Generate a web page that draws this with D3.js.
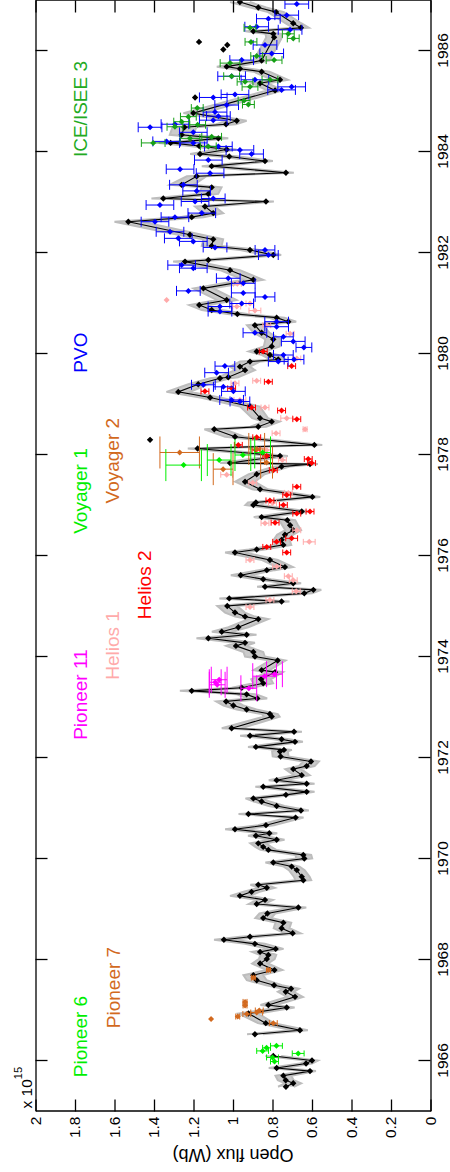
<!DOCTYPE html>
<html>
<head>
<meta charset="utf-8">
<script src="https://cdn.jsdelivr.net/npm/d3@7"></script>
<style>
html, body { margin: 0; padding: 0; background: #fff; }
svg { display: block; font-family: "Liberation Sans", Arial, Helvetica, sans-serif; }
</style>
</head>
<body>
<svg id="chart" width="450" height="1172"></svg>
<script>
// ---- axis ticks ----
const yearTicks = [1966, 1968, 1970, 1972, 1974, 1976, 1978, 1980, 1982, 1984, 1986];
const fluxTicks = [0, 0.2, 0.4, 0.6, 0.8, 1, 1.2, 1.4, 1.6, 1.8, 2];
const fluxTickLabels = ["0", "0.2", "0.4", "0.6", "0.8", "1", "1.2", "1.4", "1.6", "1.8", "2"];

// ---- open flux from near-Earth data: [year, flux (1e15 Wb), uncertainty]; null marks a data gap ----
const nearEarth = [
  [1965.49,0.732,0.04],[1965.56,0.695,0.04],[1965.62,0.733,0.04],[1965.71,0.745,0.04],[1965.80,0.610,0.03],
  [1965.86,0.779,0.04],[1965.95,0.630,0.03],[1966.01,0.600,0.03],[1966.10,0.796,0.04],[1966.30,null,null],
  [1966.53,0.889,0.04],[1966.61,0.661,0.04],[1966.75,0.834,0.04],[1966.94,0.922,0.05],[1967.06,0.728,0.04],
  [1967.11,0.821,0.04],[1967.27,0.686,0.04],[1967.37,0.733,0.04],[1967.43,0.706,0.04],[1967.50,0.792,0.04],
  [1967.60,0.880,0.05],[1967.70,0.897,0.05],[1967.80,0.790,0.04],[1967.93,0.863,0.04],[1968.02,0.829,0.04],
  [1968.10,0.821,0.04],[1968.16,0.863,0.04],[1968.22,0.784,0.04],[1968.32,0.889,0.05],[1968.40,1.046,0.05],
  [1968.46,0.914,0.05],[1968.53,0.698,0.04],[1968.63,0.754,0.04],[1968.74,0.745,0.04],[1968.83,0.847,0.04],
  [1968.92,0.826,0.04],[1969.04,0.669,0.04],[1969.11,0.880,0.04],[1969.19,0.838,0.04],[1969.27,0.965,0.05],
  [1969.35,0.906,0.04],[1969.43,0.829,0.04],[1969.49,0.872,0.04],[1969.58,0.644,0.04],[1969.65,0.652,0.04],
  [1969.78,0.677,0.04],[1969.85,0.703,0.04],[1969.93,0.796,0.04],[1970.01,0.639,0.04],[1970.08,0.644,0.04],
  [1970.18,0.821,0.04],[1970.24,0.847,0.04],[1970.31,0.872,0.04],[1970.38,0.779,0.04],[1970.46,0.884,0.04],
  [1970.51,0.816,0.04],[1970.59,0.990,0.05],[1970.67,0.833,0.04],[1970.82,0.683,0.04],[1970.89,0.922,0.05],
  [1970.96,0.656,0.04],[1971.05,0.779,0.04],[1971.14,0.855,0.04],[1971.20,0.897,0.04],[1971.27,0.732,0.04],
  [1971.33,0.627,0.04],[1971.43,0.847,0.04],[1971.49,0.627,0.04],[1971.56,0.779,0.04],[1971.66,0.652,0.04],
  [1971.78,0.695,0.04],[1971.84,0.627,0.04],[1971.93,0.605,0.04],[1972.03,0.759,0.04],[1972.13,0.762,0.04],
  [1972.16,0.742,0.04],[1972.22,0.884,0.04],[1972.32,0.686,0.04],[1972.37,0.754,0.04],[1972.44,0.914,0.05],
  [1972.52,0.691,0.04],[1972.59,1.007,0.05],[1972.82,0.804,0.04],[1972.87,0.813,0.04],[1972.96,0.931,0.05],
  [1973.04,0.998,0.05],[1973.12,1.035,0.05],[1973.18,0.877,0.05],[1973.26,0.931,0.05],[1973.33,1.209,0.06],
  [1973.39,0.956,0.05],[1973.48,0.847,0.05],[1973.56,0.858,0.05],[1973.70,0.787,0.04],[1973.74,0.855,0.04],
  [1973.93,0.774,0.04],[1974.01,0.889,0.05],[1974.10,0.897,0.05],[1974.22,0.985,0.05],[1974.28,0.939,0.05],
  [1974.37,1.125,0.06],[1974.44,0.931,0.05],[1974.50,1.057,0.05],[1974.59,0.973,0.05],[1974.75,0.872,0.05],
  [1974.80,0.939,0.05],[1974.88,0.990,0.05],[1975.01,1.029,0.05],[1975.10,0.754,0.04],[1975.16,1.019,0.05],
  [1975.26,0.639,0.04],[1975.33,0.593,0.04],[1975.39,0.838,0.04],[1975.46,0.695,0.04],[1975.54,0.847,0.04],
  [1975.62,0.961,0.05],[1975.72,0.829,0.04],[1975.78,0.737,0.04],[1975.92,0.813,0.04],[1976.07,0.990,0.05],
  [1976.13,0.880,0.04],[1976.22,0.745,0.04],[1976.32,0.754,0.04],[1976.42,0.737,0.04],[1976.51,0.695,0.04],
  [1976.61,0.711,0.04],[1976.71,0.725,0.04],[1976.77,0.855,0.04],[1976.88,0.652,0.04],[1977.01,0.897,0.04],
  [1977.06,0.884,0.04],[1977.17,0.598,0.04],[1977.32,0.863,0.04],[1977.47,0.939,0.05],[1977.62,0.880,0.04],
  [1977.77,0.754,0.04],[1977.82,0.610,0.04],[1977.84,1.015,0.05],[1977.98,0.762,0.04],[1978.13,1.179,0.05],
  [1978.20,0.588,0.04],[1978.36,0.990,0.05],[1978.51,1.095,0.05],[1978.56,0.872,0.04],[1978.66,0.804,0.04],
  [1978.73,0.863,0.04],[1978.96,0.914,0.05],[1979.14,1.116,0.05],[1979.25,1.277,0.06],[1979.40,1.176,0.05],
  [1979.52,1.066,0.05],[1979.54,1.024,0.05],[1979.68,0.939,0.05],[1979.75,0.965,0.05],[1979.85,0.914,0.05],
  [1979.89,0.771,0.04],[1979.98,0.813,0.04],[1980.05,0.880,0.04],[1980.15,0.804,0.04],[1980.29,0.796,0.04],
  [1980.42,0.855,0.04],[1980.57,0.889,0.04],[1980.64,0.720,0.04],[1980.72,0.779,0.04],[1980.79,0.978,0.05],
  [1980.87,1.108,0.05],[1980.97,1.171,0.05],[1981.07,1.032,0.05],[1981.30,1.150,0.05],[1981.47,0.897,0.05],
  [1981.66,1.015,0.05],[1981.83,1.243,0.06],[1981.86,1.125,0.05],[1981.96,0.796,0.04],[1982.06,0.914,0.05],
  [1982.14,1.108,0.05],[1982.27,1.100,0.05],[1982.36,1.218,0.06],[1982.62,1.530,0.07],[1982.71,1.209,0.06],
  [1982.79,1.100,0.05],[1982.92,1.142,0.05],[1983.02,0.833,0.04],[1983.08,1.353,0.06],[1983.17,1.125,0.05],
  [1983.30,1.108,0.05],[1983.35,1.260,0.06],[1983.52,1.184,0.05],[1983.59,0.732,0.04],[1983.72,1.108,0.05],
  [1983.82,0.838,0.04],[1983.91,1.019,0.05],[1983.96,1.167,0.05],[1984.05,1.032,0.05],[1984.12,1.171,0.05],
  [1984.18,1.316,0.06],[1984.27,1.074,0.05],[1984.34,1.260,0.06],[1984.49,1.246,0.06],[1984.55,1.035,0.05],
  [1984.62,0.981,0.05],[1984.77,1.201,0.05],[1985.22,0.787,0.04],[1985.36,0.863,0.04],[1985.43,0.762,0.04],
  [1985.59,0.855,0.04],[1985.65,0.965,0.05],[1985.69,1.032,0.05],[1985.81,0.855,0.04],[1986.27,0.792,0.04],
  [1986.34,0.796,0.04],[1986.39,0.897,0.04],[1986.46,0.656,0.04],[1986.55,0.695,0.04],[1986.77,0.782,0.04],
  [1986.86,0.872,0.04],[1986.97,0.965,0.05]
];
// isolated near-Earth estimates
const nearEarthSingles = [[1978.30,1.42],[1985.08,1.192],[1986.03,1.049],[1986.12,1.029],[1986.18,1.172]];

// ---- deep-space spacecraft estimates: [year, flux, uncertainty] ----
const pioneer6 = [[1965.99,0.79,0.02],[1966.07,0.80,0.03],[1966.15,0.67,0.03],[1966.20,0.85,0.03],[1966.26,0.83,0.02],[1966.30,0.78,0.03]];
const pioneer7 = [[1966.75,0.796,0.02],[1966.83,1.111,0],[1966.88,0.976,0.01],[1966.93,0.930,0.02],[1966.96,0.880,0.03],
  [1967.00,0.867,0.02],[1967.10,0.939,0.01],[1967.17,0.939,0.01],[1967.65,0.897,0.01],[1967.80,0.820,0.01]];
const pioneer11 = [[1973.38,0.92,0.04],[1973.45,1.08,0.04],[1973.50,1.09,0.03],[1973.55,1.07,0.04],[1973.62,0.84,0.06],[1973.66,0.79,0.04]];
const helios1 = [[1974.99,0.914,0.02],[1975.13,0.813,0.02],[1975.30,0.680,0.02],[1975.52,0.695,0.02],[1975.60,0.720,0.02],
  [1975.79,0.779,0.02],[1975.92,0.914,0.02],[1976.28,0.614,0.03],[1976.51,0.677,0.02],[1976.65,0.838,0.02],
  [1977.05,0.800,0.02],[1977.25,0.720,0.02],[1977.45,0.900,0.02],[1977.61,1.032,0.03],[1977.90,0.750,0.02],
  [1978.10,0.830,0.02],[1978.43,0.782,0.02],[1978.51,0.635,0.01],[1978.73,0.728,0.03],[1978.94,0.838,0.02],
  [1979.09,0.965,0.03],[1979.42,0.990,0.02],[1979.47,0.880,0.02],[1979.91,0.677,0.02],[1980.40,0.711,0.02],
  [1980.57,0.829,0.02],[1980.86,0.889,0.03],[1980.94,0.981,0.02],[1981.00,0.914,0.02],[1981.07,1.336,0],[1981.39,0.978,0.02]];
const helios2 = [[1976.07,0.728,0.02],[1976.18,0.829,0.02],[1976.28,0.779,0.02],[1976.35,0.703,0.03],[1976.66,0.787,0.02],
  [1976.84,0.677,0.02],[1976.88,0.610,0.02],[1977.01,0.745,0.02],[1977.10,0.813,0.02],[1977.21,0.728,0.02],
  [1977.37,0.677,0.02],[1977.70,0.796,0.02],[1977.84,0.602,0.02],[1977.92,0.619,0.02],[1977.98,0.829,0.02],
  [1978.10,0.884,0.02],[1978.20,0.973,0.02],[1978.35,0.880,0.02],[1978.71,0.677,0.02],[1978.88,0.754,0.02],
  [1978.94,0.906,0.02],[1979.26,1.142,0.02],[1979.32,1.007,0.02],[1979.45,0.821,0.02],[1979.76,0.703,0.02],[1980.05,0.847,0.02]];
const voyager1 = [[1977.80,1.25,0.09],[1977.90,1.07,0.06],[1978.00,0.95,0.04],[1978.05,0.85,0.04]];
const voyager2 = [[1977.72,1.05,0.05],[1977.85,0.83,0.03],[1978.05,1.27,0.10],[1978.12,0.88,0.04]];
const pvo = [
  [1979.06,0.965,0.05],[1979.09,1.007,0.06],[1979.26,0.998,0.06],[1979.35,1.049,0.05],[1979.39,1.150,0.06],
  [1979.63,1.083,0.06],[1979.76,1.041,0.05],[1979.85,0.771,0.05],[1979.89,0.691,0.05],[1979.98,0.745,0.05],
  [1980.13,0.641,0.04],[1980.25,0.695,0.06],[1980.34,0.745,0.05],[1980.42,0.889,0.06],[1980.54,0.779,0.06],
  [1980.64,0.779,0.06],[1980.84,1.066,0.06],[1980.94,1.066,0.06],[1981.00,0.956,0.06],[1981.13,0.838,0.05],
  [1981.21,0.948,0.06],[1981.25,1.226,0.06],[1981.40,0.948,0.06],[1981.50,1.024,0.06],[1981.70,1.201,0.07],
  [1981.76,1.260,0.07],[1981.96,0.821,0.05],[1982.06,0.838,0.05],[1982.11,1.091,0.06],[1982.23,1.201,0.07],
  [1982.29,1.277,0.07],[1982.42,1.319,0.07],[1982.62,1.395,0.07],[1982.71,1.294,0.07],[1982.79,1.158,0.07],
  [1982.95,1.370,0.07],[1983.02,1.192,0.07],[1983.08,1.100,0.06],[1983.23,1.184,0.07],[1983.35,1.251,0.07],
  [1983.58,1.116,0.07],[1983.66,1.268,0.07],[1983.84,1.125,0.07],[1983.96,0.906,0.06],[1984.04,0.965,0.07],
  [1984.11,1.074,0.07],[1984.18,1.201,0.07],[1984.21,1.336,0.07],[1984.39,1.201,0.07],[1984.49,1.420,0.06],
  [1984.55,1.294,0.07],[1984.63,1.100,0.07],[1984.71,1.074,0.06],[1984.79,1.091,0.06],[1984.93,1.032,0.06],
  [1985.08,1.100,0.07],[1985.14,0.990,0.07],[1985.23,0.754,0.07],[1985.29,0.703,0.07],[1985.43,0.889,0.07],
  [1985.50,1.007,0.07],[1985.82,0.956,0.06],[1985.95,0.804,0.06],[1986.12,0.838,0.06],[1986.42,0.711,0.06],
  [1986.48,0.880,0.06],[1986.64,0.821,0.06],[1986.71,0.728,0.06],[1986.93,0.677,0.06]];
const iceIsee3 = [
  [1984.11,1.125,0.04],[1984.18,1.404,0.06],[1984.27,1.218,0.05],[1984.30,1.108,0.05],[1984.50,1.294,0.04],
  [1984.54,1.179,0.04],[1984.60,1.260,0.04],[1984.70,1.226,0.04],[1984.87,1.181,0.03],[1984.94,0.922,0.03],
  [1985.02,0.944,0.03],[1985.29,0.914,0.04],[1985.39,0.939,0.04],[1985.43,0.813,0.04],[1985.50,1.007,0.04],
  [1985.76,1.015,0.05],[1985.82,0.792,0.04],[1985.90,0.880,0.03],[1986.18,0.909,0.03],[1986.25,0.695,0.03],
  [1986.34,0.720,0.03],[1986.46,0.914,0.03]];

// ---- series labels: name, colour, start year, flux at baseline ----
const seriesLabels = [
  ["Pioneer 6", "#00ee00", 1965.68, 1.74],
  ["Pioneer 7", "#d2691e", 1966.65, 1.57],
  ["Pioneer 11", "#ff00ff", 1972.36, 1.74],
  ["Helios 1", "#ffaaaa", 1973.55, 1.575],
  ["Helios 2", "#ff0000", 1974.75, 1.415],
  ["Voyager 1", "#00ee00", 1976.44, 1.74],
  ["Voyager 2", "#d2691e", 1977.04, 1.575],
  ["PVO", "#0000ff", 1979.63, 1.74],
  ["ICE/ISEE 3", "#22aa22", 1983.90, 1.74]
];

// The chart is laid out in a landscape frame (time across, flux up) and turned a quarter turn
// anticlockwise onto the portrait page.
const PAGE_H = 1172;
const svg = d3.select("#chart");
const root = svg.append("g").attr("transform", `translate(0,${PAGE_H}) rotate(-90)`);

const x = d3.scaleLinear().domain([1965, 1987]).range([60.5, 1171.5]);
const y = d3.scaleLinear().domain([0, 2]).range([430.5, 35.5]);

const defs = svg.append("defs");
defs.append("clipPath").attr("id", "plotClip")
  .append("rect").attr("x", x(1965)).attr("y", y(2)).attr("width", x(1987) - x(1965)).attr("height", y(0) - y(2));
const plot = root.append("g").attr("clip-path", "url(#plotClip)");

const diamond = r => `M0,${-r}L${r},0L0,${r}L${-r},0Z`;

// near-Earth series: grey uncertainty band, black line, black diamonds
const has = d => d[1] != null;
plot.append("path").datum(nearEarth)
  .attr("d", d3.area().defined(has).x(d => x(d[0])).y0(d => y(d[1] - d[2])).y1(d => y(d[1] + d[2])))
  .attr("fill", "#cbcbcb");
[-1, 1].forEach(s => {
  plot.append("path").datum(nearEarth)
    .attr("d", d3.line().defined(has).x(d => x(d[0])).y(d => y(d[1] + s * d[2])))
    .attr("fill", "none").attr("stroke", "#bdbdbd").attr("stroke-width", 2);
});
plot.append("path").datum(nearEarth)
  .attr("d", d3.line().defined(has).x(d => x(d[0])).y(d => y(d[1])))
  .attr("fill", "none").attr("stroke", "#000").attr("stroke-width", 1.1);
plot.append("g").selectAll("path").data(nearEarth.filter(has).concat(nearEarthSingles)).join("path")
  .attr("d", diamond(3.2))
  .attr("transform", d => `translate(${x(d[0])},${y(d[1])})`)
  .attr("fill", "#000");

// spacecraft series: error bars with end caps and diamond markers
function drawSeries(data, color, capHalf) {
  const g = plot.append("g");
  const bars = data.filter(d => d[2] > 0);
  g.selectAll("line.bar").data(bars).join("line").attr("class", "bar")
    .attr("x1", d => x(d[0])).attr("x2", d => x(d[0]))
    .attr("y1", d => y(d[1] - d[2])).attr("y2", d => y(d[1] + d[2]))
    .attr("stroke", color).attr("stroke-width", 1);
  [-1, 1].forEach(s => {
    g.selectAll(`line.cap${s}`).data(bars).join("line").attr("class", `cap${s}`)
      .attr("x1", d => x(d[0]) - capHalf).attr("x2", d => x(d[0]) + capHalf)
      .attr("y1", d => y(d[1] + s * d[2])).attr("y2", d => y(d[1] + s * d[2]))
      .attr("stroke", color).attr("stroke-width", 1);
  });
  g.selectAll("path.pt").data(data).join("path").attr("class", "pt")
    .attr("d", diamond(3))
    .attr("transform", d => `translate(${x(d[0])},${y(d[1])})`)
    .attr("fill", color);
}
drawSeries(pioneer6, "#00ee00", 3);
drawSeries(pioneer7, "#d2691e", 3);
drawSeries(helios1, "#ffaaaa", 3);
drawSeries(helios2, "#ff0000", 3);
drawSeries(pioneer11, "#ff00ff", 13);
drawSeries(voyager2, "#d2691e", 16);
drawSeries(voyager1, "#00ee00", 16);
drawSeries(pvo, "#0000ff", 5);
drawSeries(iceIsee3, "#16a016", 4);

// series labels
root.append("g").selectAll("text").data(seriesLabels).join("text")
  .attr("x", d => x(d[2])).attr("y", d => y(d[3]))
  .attr("fill", d => d[1])
  .attr("font-size", 19)
  .text(d => d[0]);

// frame with inward ticks on all four sides
const axisStyle = g => {
  g.select(".domain").attr("stroke", "#000").attr("stroke-width", 1.3);
  g.selectAll(".tick line").attr("stroke", "#000").attr("stroke-width", 1.3);
  g.selectAll(".tick text").attr("fill", "#000").attr("font-size", 15.5)
    .attr("font-family", "'Liberation Sans', Arial, Helvetica, sans-serif");
};
root.append("g").attr("transform", `translate(0,${y(0)})`)
  .call(d3.axisBottom(x).tickValues(yearTicks).tickFormat(d3.format("d")).tickSize(-12).tickSizeOuter(0).tickPadding(6))
  .call(axisStyle);
root.append("g").attr("transform", `translate(0,${y(2)})`)
  .call(d3.axisTop(x).tickValues(yearTicks).tickFormat("").tickSize(-12).tickSizeOuter(0))
  .call(axisStyle);
root.append("g").attr("transform", `translate(${x(1965)},0)`)
  .call(d3.axisLeft(y).tickValues(fluxTicks).tickFormat((d, i) => fluxTickLabels[i]).tickSize(-12).tickSizeOuter(0).tickPadding(5))
  .call(axisStyle);
root.append("g").attr("transform", `translate(${x(1987)},0)`)
  .call(d3.axisRight(y).tickValues(fluxTicks).tickFormat("").tickSize(-12).tickSizeOuter(0))
  .call(axisStyle);

// axis title and scale factor
root.append("text")
  .attr("transform", `translate(23,${(y(0) + y(2)) / 2}) rotate(-90)`)
  .attr("text-anchor", "middle").attr("font-size", 18).attr("fill", "#000")
  .text("Open flux (Wb)");
const mult = root.append("text").attr("x", x(1965) + 3).attr("y", 32).attr("font-size", 15.5).attr("fill", "#000");
mult.append("tspan").text("x 10");
mult.append("tspan").attr("dy", -10).attr("font-size", 11).text("15");
</script>
</body>
</html>
